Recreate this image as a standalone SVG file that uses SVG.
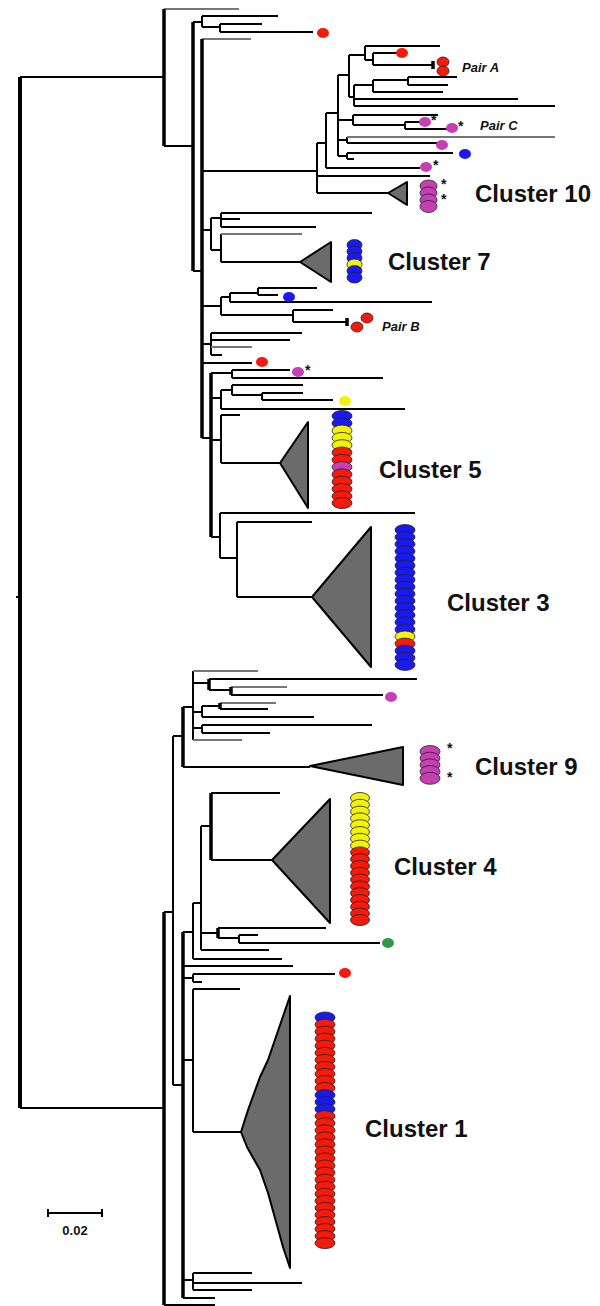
<svg xmlns="http://www.w3.org/2000/svg" width="600" height="1306" viewBox="0 0 600 1306">
<style>
.br{stroke:#000;stroke-width:2;fill:none}
.th{stroke:#000;stroke-width:3.5;fill:none}
.gr{stroke:#777;stroke-width:2;fill:none}
.tri{fill:#6b6b6b;stroke:#000;stroke-width:2;stroke-linejoin:round}
.st ellipse{stroke:#222;stroke-width:0.8}
.r{fill:#f41a0c}.b{fill:#1a1aee}.y{fill:#f2f20a}.m{fill:#c63fb4}.g{fill:#2f9a45}
.dot{stroke:none}
.lbl{font-family:"Liberation Sans",Arial,sans-serif;font-weight:bold;font-size:24px;fill:#111}
.pair{font-family:"Liberation Sans",Arial,sans-serif;font-weight:bold;font-style:italic;font-size:13px;fill:#111}
.star{font-family:"Liberation Sans",Arial,sans-serif;font-weight:bold;font-size:14px;fill:#111}
</style>
<rect width="600" height="1306" fill="#fff"/>
<g id="connectors">
<path class="br" d="M20 77H164 M20 1108H164 M16 597H20
M164 146H193 M193 22H202 M202 16H278 M202 27H220 M220 24H262 M220 32H313 M193 271H202
M202 171H317 M317 143H326 M317 176H430 M317 193H388 M326 113H338 M326 168H420 M338 75H349 M349 55H365 M365 46H440 M365 60H373 M373 53H397 M373 65H433 M349 97H354 M354 85H373 M373 80H408 M408 77H457 M408 85H448 M373 92H443 M354 99H518 M354 106H555 M338 120H353 M353 115H438 M353 125H405 M405 122H420 M405 129H447 M338 140H347 M347 143H438 M338 156H347 M347 153H453 M347 159H354
M202 230H211 M211 218H221 M221 213H372 M221 219H240 M221 227H316 M211 250H221 M221 262H300
M202 306H221 M221 297H230 M230 293H258 M258 288H317 M258 295H278 M230 302H432 M221 315H293 M293 310H333 M293 322H347
M202 344H211 M211 333H302 M211 340H290 M211 355H222 M202 363H252
M202 438H211 M211 373H232 M232 370H290 M232 378H383 M211 398H221 M221 390H232 M232 385H303 M232 395H262 M262 393H303 M262 400H333 M221 409H405 M211 440H221 M221 415H240 M221 463H280 M211 537H220 M220 513H415 M220 558H237 M237 522H312 M237 597H312
M317 143V193 M326 113V168 M338 75V156 M349 55V97 M365 46V60 M373 53V65 M354 85V106 M373 80V92 M408 77V85 M353 115V125 M405 122V129 M347 137V143 M347 153V159 M220 24V32 M221 213V227 M221 234V262 M230 293V302 M258 288V295 M221 297V315 M293 310V322 M232 370V378 M221 390V409 M232 385V395 M262 393V400 M221 415V463 M220 513V558 M237 522V597 M211 218V250 M211 333V355 M202 16V27
M164 912H173 M173 736H183 M183 707H193 M193 683H209 M209 679H417 M209 690H231 M231 695H383 M193 712H202 M202 706H220 M220 709H268 M202 717H314 M193 728H202 M202 725H372 M202 733H270 M183 767H310 M173 1085H183 M183 932H193 M193 903H201 M201 826H211 M211 793H280 M211 860H272 M201 933H218 M218 928H326 M218 938H239 M239 935H258 M239 943H380 M201 950H269 M193 959H282 M183 966H293 M183 978H193 M193 974H335 M193 982H202 M183 1060H193 M193 989H240 M193 1132H241 M183 1280H193 M193 1273H252 M193 1283H302 M193 1290H252 M183 1298H215 M164 1305H215
M173 736V1085 M193 671V740 M202 706V717 M202 725V733 M239 935V943 M201 826V950 M193 903V959 M193 974V982 M193 989V1132 M193 1273V1290"/>
<path class="gr" d="M164 9H239 M202 39H251 M221 234H302 M211 347H252 M193 671H258 M231 687H287 M220 703H276 M193 740H242 M347 137H555"/>
<path class="th" d="M164 9V146 M193 22V271 M202 39V438 M211 373V537 M433 61V69 M347 318V326 M164 912V1305 M183 707V767 M183 932V1298 M211 793V860 M209 679V690 M231 687V695 M220 703V709 M218 928V938"/>
<path class="th" style="stroke-width:4" d="M20 77V1108"/>
</g>
<g id="cluster10"><polygon class="tri" points="388,193 407,182 407,205"/>
<g class="st m"><ellipse cx="428.5" cy="186" rx="8.5" ry="6"/><ellipse cx="428.5" cy="193" rx="8.5" ry="6"/><ellipse cx="428.5" cy="200" rx="8.5" ry="6"/><ellipse cx="428.5" cy="206.5" rx="8.5" ry="6"/></g>
<text class="star" x="441" y="189">*</text><text class="star" x="441" y="204">*</text>
<text class="lbl" x="475" y="202">Cluster 10</text></g>
<g id="cluster7"><polygon class="tri" points="300,262 331,242 331,282"/>
<g class="st"><ellipse class="b" cx="354.5" cy="245" rx="7.5" ry="5.5"/><ellipse class="b" cx="354.5" cy="251.5" rx="7.5" ry="5.5"/><ellipse class="b" cx="354.5" cy="258" rx="7.5" ry="5.5"/><ellipse class="y" cx="354.5" cy="264.5" rx="7.5" ry="5.5"/><ellipse class="b" cx="354.5" cy="271" rx="7.5" ry="5.5"/><ellipse class="b" cx="354.5" cy="277.5" rx="7.5" ry="5.5"/></g>
<text class="lbl" x="388" y="270">Cluster 7</text></g>
<g id="cluster5"><polygon class="tri" points="280,463 308,422 308,508"/>
<g class="st"><ellipse class="b" cx="342" cy="416" rx="10" ry="5.5"/><ellipse class="b" cx="342" cy="423.3" rx="10" ry="5.5"/><ellipse class="y" cx="342" cy="430.6" rx="10" ry="5.5"/><ellipse class="y" cx="342" cy="437.9" rx="10" ry="5.5"/><ellipse class="y" cx="342" cy="445.2" rx="10" ry="5.5"/><ellipse class="r" cx="342" cy="452.5" rx="10" ry="5.5"/><ellipse class="r" cx="342" cy="459.8" rx="10" ry="5.5"/><ellipse class="m" cx="342" cy="467.1" rx="10" ry="5.5"/><ellipse class="r" cx="342" cy="474.4" rx="10" ry="5.5"/><ellipse class="r" cx="342" cy="481.7" rx="10" ry="5.5"/><ellipse class="r" cx="342" cy="489" rx="10" ry="5.5"/><ellipse class="r" cx="342" cy="496.3" rx="10" ry="5.5"/><ellipse class="r" cx="342" cy="503" rx="10" ry="5.5"/></g>
<text class="lbl" x="379" y="478">Cluster 5</text></g>
<g id="cluster3"><polygon class="tri" points="312,597 371,527 371,667"/>
<g class="st b"><ellipse cx="405" cy="530" rx="10" ry="5.5"/><ellipse cx="405" cy="537.1" rx="10" ry="5.5"/><ellipse cx="405" cy="544.2" rx="10" ry="5.5"/><ellipse cx="405" cy="551.3" rx="10" ry="5.5"/><ellipse cx="405" cy="558.4" rx="10" ry="5.5"/><ellipse cx="405" cy="565.5" rx="10" ry="5.5"/><ellipse cx="405" cy="572.6" rx="10" ry="5.5"/><ellipse cx="405" cy="579.7" rx="10" ry="5.5"/><ellipse cx="405" cy="586.8" rx="10" ry="5.5"/><ellipse cx="405" cy="593.9" rx="10" ry="5.5"/><ellipse cx="405" cy="601" rx="10" ry="5.5"/><ellipse cx="405" cy="608.1" rx="10" ry="5.5"/><ellipse cx="405" cy="615.2" rx="10" ry="5.5"/><ellipse cx="405" cy="622.3" rx="10" ry="5.5"/><ellipse cx="405" cy="629.4" rx="10" ry="5.5"/><ellipse class="y" cx="405" cy="636.5" rx="10" ry="5.5"/><ellipse class="r" cx="405" cy="643.6" rx="10" ry="5.5"/><ellipse cx="405" cy="650.7" rx="10" ry="5.5"/><ellipse cx="405" cy="657.8" rx="10" ry="5.5"/><ellipse cx="405" cy="664.9" rx="10" ry="5.5"/></g>
<text class="lbl" x="447" y="611">Cluster 3</text></g>
<g id="cluster9"><polygon class="tri" points="310,766 403,747 403,785"/>
<g class="st m"><ellipse cx="430" cy="751.5" rx="10" ry="6"/><ellipse cx="430" cy="758.2" rx="10" ry="6"/><ellipse cx="430" cy="764.9" rx="10" ry="6"/><ellipse cx="430" cy="771.6" rx="10" ry="6"/><ellipse cx="430" cy="778.3" rx="10" ry="6"/></g>
<text class="star" x="447" y="753">*</text><text class="star" x="447" y="782">*</text>
<text class="lbl" x="475" y="775">Cluster 9</text></g>
<g id="cluster4"><polygon class="tri" points="272,860 330,799 330,923"/>
<g class="st"><ellipse class="y" cx="360" cy="798" rx="9.5" ry="5.5"/><ellipse class="y" cx="360" cy="804.8" rx="9.5" ry="5.5"/><ellipse class="y" cx="360" cy="811.6" rx="9.5" ry="5.5"/><ellipse class="y" cx="360" cy="818.4" rx="9.5" ry="5.5"/><ellipse class="y" cx="360" cy="825.2" rx="9.5" ry="5.5"/><ellipse class="y" cx="360" cy="832" rx="9.5" ry="5.5"/><ellipse class="y" cx="360" cy="838.8" rx="9.5" ry="5.5"/><ellipse class="y" cx="360" cy="845.6" rx="9.5" ry="5.5"/><ellipse class="r" cx="360" cy="852.4" rx="9.5" ry="5.5"/><ellipse class="r" cx="360" cy="859.2" rx="9.5" ry="5.5"/><ellipse class="r" cx="360" cy="866" rx="9.5" ry="5.5"/><ellipse class="r" cx="360" cy="872.8" rx="9.5" ry="5.5"/><ellipse class="r" cx="360" cy="879.6" rx="9.5" ry="5.5"/><ellipse class="r" cx="360" cy="886.4" rx="9.5" ry="5.5"/><ellipse class="r" cx="360" cy="893.2" rx="9.5" ry="5.5"/><ellipse class="r" cx="360" cy="900" rx="9.5" ry="5.5"/><ellipse class="r" cx="360" cy="906.8" rx="9.5" ry="5.5"/><ellipse class="r" cx="360" cy="913.6" rx="9.5" ry="5.5"/><ellipse class="r" cx="360" cy="920" rx="9.5" ry="5.5"/></g>
<text class="lbl" x="394" y="875">Cluster 4</text></g>
<g id="cluster1"><polygon class="tri" points="241,1132 248,1110 260,1077 268,1060 290,996 290,1268 283,1247 268,1193 260,1170 247,1147"/>
<g class="st r"><ellipse class="b" cx="325" cy="1017.5" rx="10" ry="5.5"/><ellipse cx="325" cy="1024.6" rx="10" ry="5.5"/><ellipse cx="325" cy="1031.6" rx="10" ry="5.5"/><ellipse cx="325" cy="1038.7" rx="10" ry="5.5"/><ellipse cx="325" cy="1045.7" rx="10" ry="5.5"/><ellipse cx="325" cy="1052.8" rx="10" ry="5.5"/><ellipse cx="325" cy="1059.8" rx="10" ry="5.5"/><ellipse cx="325" cy="1066.9" rx="10" ry="5.5"/><ellipse cx="325" cy="1073.9" rx="10" ry="5.5"/><ellipse cx="325" cy="1081" rx="10" ry="5.5"/><ellipse cx="325" cy="1088" rx="10" ry="5.5"/><ellipse class="b" cx="325" cy="1095.1" rx="10" ry="5.5"/><ellipse class="b" cx="325" cy="1102.1" rx="10" ry="5.5"/><ellipse class="b" cx="325" cy="1109.2" rx="10" ry="5.5"/><ellipse cx="325" cy="1116.2" rx="10" ry="5.5"/><ellipse cx="325" cy="1123.3" rx="10" ry="5.5"/><ellipse cx="325" cy="1130.3" rx="10" ry="5.5"/><ellipse cx="325" cy="1137.4" rx="10" ry="5.5"/><ellipse cx="325" cy="1144.4" rx="10" ry="5.5"/><ellipse cx="325" cy="1151.5" rx="10" ry="5.5"/><ellipse cx="325" cy="1158.5" rx="10" ry="5.5"/><ellipse cx="325" cy="1165.6" rx="10" ry="5.5"/><ellipse cx="325" cy="1172.6" rx="10" ry="5.5"/><ellipse cx="325" cy="1179.7" rx="10" ry="5.5"/><ellipse cx="325" cy="1186.7" rx="10" ry="5.5"/><ellipse cx="325" cy="1193.8" rx="10" ry="5.5"/><ellipse cx="325" cy="1200.8" rx="10" ry="5.5"/><ellipse cx="325" cy="1207.9" rx="10" ry="5.5"/><ellipse cx="325" cy="1214.9" rx="10" ry="5.5"/><ellipse cx="325" cy="1222" rx="10" ry="5.5"/><ellipse cx="325" cy="1229" rx="10" ry="5.5"/><ellipse cx="325" cy="1236.1" rx="10" ry="5.5"/><ellipse cx="325" cy="1243.1" rx="10" ry="5.5"/></g>
<text class="lbl" x="365" y="1137">Cluster 1</text></g>
<g id="pairA"><g class="st r"><ellipse cx="443" cy="62" rx="6" ry="5"/><ellipse cx="443" cy="71" rx="6" ry="5"/></g>
<text class="pair" x="462" y="72">Pair A</text></g>
<g id="pairB"><g class="st r"><ellipse cx="367" cy="318" rx="6" ry="5"/><ellipse cx="357" cy="327" rx="6" ry="5"/></g>
<text class="pair" x="382" y="331">Pair B</text></g>
<g id="pairC"><ellipse class="m dot" cx="425" cy="122" rx="6" ry="5"/><text class="star" x="431" y="125">*</text>
<ellipse class="m dot" cx="452" cy="128" rx="6" ry="5"/><text class="star" x="458" y="131">*</text>
<text class="pair" x="480" y="130">Pair C</text></g>
<g id="single-dots">
<ellipse class="r dot" cx="323" cy="33" rx="6" ry="5"/>
<ellipse class="r dot" cx="402" cy="53" rx="6" ry="5"/>
<ellipse class="m dot" cx="442" cy="145" rx="6" ry="5"/>
<ellipse class="b dot" cx="465" cy="154" rx="6" ry="5"/>
<ellipse class="m dot" cx="426" cy="167" rx="6" ry="5"/><text class="star" x="433" y="170">*</text>
<ellipse class="b dot" cx="289" cy="297" rx="6" ry="5"/>
<ellipse class="r dot" cx="262" cy="362" rx="6" ry="5"/>
<ellipse class="m dot" cx="298" cy="372" rx="6" ry="5"/><text class="star" x="305" y="375">*</text>
<ellipse class="y dot" cx="345" cy="401" rx="6" ry="5"/>
<ellipse class="m dot" cx="391" cy="697" rx="6" ry="5"/>
<ellipse class="g dot" cx="388" cy="943" rx="6" ry="5"/>
<ellipse class="r dot" cx="345" cy="973" rx="6" ry="5"/>
</g>
<g id="scale-bar"><path class="br" d="M48 1213H102 M48 1209V1217 M102 1209V1217"/>
<text x="75" y="1235" text-anchor="middle" style="font-family:'Liberation Sans',Arial,sans-serif;font-weight:bold;font-size:13px;fill:#111">0.02</text></g>
</svg>
